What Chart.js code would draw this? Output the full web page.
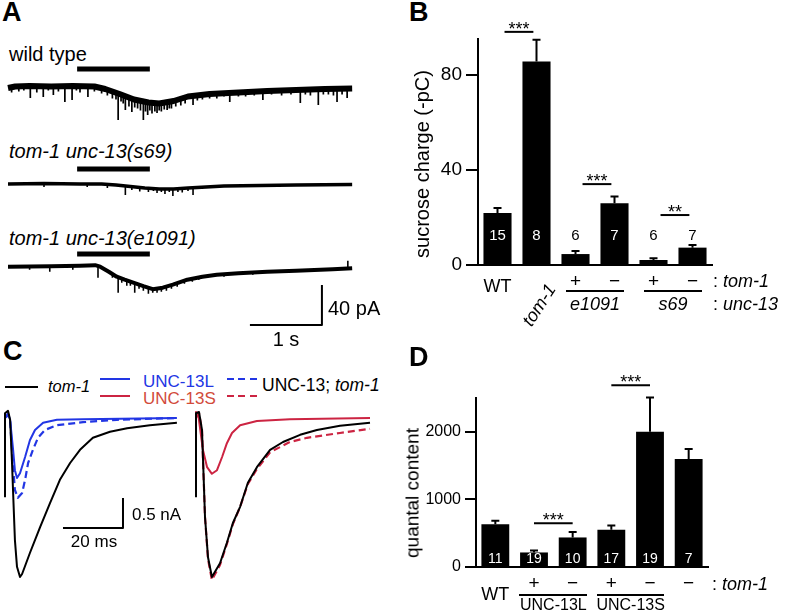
<!DOCTYPE html>
<html>
<head>
<meta charset="utf-8">
<script src="https://cdn.jsdelivr.net/npm/chart.js@4.4.1/dist/chart.umd.min.js"></script>
<style>
  body { margin: 0; background: #fff; }
  #fig { position: relative; width: 785px; height: 613px; overflow: hidden;
         font-family: 'Liberation Sans', Arial, Helvetica, sans-serif; color: #000; }
  #fig canvas { position: absolute; }
  .t { position: absolute; white-space: nowrap; line-height: 1; }
  .ln { position: absolute; }
</style>
</head>
<body>
<div id="fig"></div>
<script>
// ---------- A: sucrose-evoked currents, [time s, current pA] ----------
const A_STIM = [0.96, 1.97];
const WT_ENV = [[0, -1.5], [0.1, 0], [0.3, 0.5], [0.6, 0], [0.9, 0.5], [1.2, 0], [1.35, -2.5], [1.55, -7.5],
  [1.75, -13], [1.95, -16], [2.1, -17], [2.3, -14.5], [2.5, -10], [2.8, -7.5], [3.2, -6], [3.6, -4.5],
  [4.0, -3.5], [4.4, -2.5], [4.78, -2]];
// [time, start, tip] of the minis riding on the trace
const WT_SPIKES = [[0.05, -1, -6], [0.15, 0, -5], [0.22, 0, -4], [0.31, 0, -11.5], [0.4, 0, -6], [0.49, 0, -10.5],
  [0.56, 0, -4], [0.63, 0, -8.5], [0.7, 0, -5], [0.79, 0, -15.5], [0.89, 0, -13.5], [0.95, 0, -4], [1.0, 0, -6],
  [1.11, 0, -10.5], [1.2, 0, -5], [1.3, -1, -7], [1.38, -3, -9], [1.45, -5, -12], [1.5, -6, -13],
  [1.53, -7, -33.5], [1.57, -8, -15], [1.6, -8.5, -17], [1.63, -9.5, -23.5], [1.68, -11, -20], [1.72, -12, -25.5],
  [1.76, -13, -21], [1.8, -14, -22], [1.84, -14.5, -24], [1.88, -15, -33.5], [1.91, -15.5, -25], [1.94, -16, -28.5],
  [1.97, -16, -24], [2.0, -16.5, -27], [2.04, -17, -25], [2.07, -17, -26.5], [2.1, -17, -24], [2.13, -17, -25],
  [2.17, -16.5, -23], [2.21, -16, -23.5], [2.24, -15.5, -22], [2.27, -15, -22], [2.33, -14, -20], [2.4, -12, -19],
  [2.46, -11, -17], [2.57, -9.5, -18.5], [2.63, -9, -14], [2.7, -8, -13], [2.8, -7.5, -12], [2.9, -7, -12],
  [3.0, -6.5, -10], [3.08, -6.5, -15.5], [3.2, -6, -10], [3.3, -6, -10], [3.42, -5, -9], [3.54, -4.5, -13.5],
  [3.66, -4.5, -8], [3.8, -4, -9], [3.93, -4, -8], [4.06, -3.5, -16.5], [4.13, -3.5, -8], [4.2, -3, -9],
  [4.31, -3, -18.5], [4.38, -3, -8], [4.45, -2.5, -8], [4.52, -2.5, -9], [4.57, -2.5, -15.5], [4.64, -2, -8],
  [4.71, -2, -11.5]];
const S69_ENV = [[0, 0], [0.5, 0.5], [1.0, 0], [1.3, 0], [1.5, -1], [1.7, -2.5], [1.9, -4], [2.1, -5], [2.3, -5],
  [2.5, -4], [2.75, -3], [3.0, -2], [3.5, -1.5], [4.0, -1], [4.78, -0.5]];
const S69_SPIKES = [[0.5, 0, -3], [1.1, 0, -3], [1.38, -0.5, -4], [1.63, -2.5, -11], [1.72, -3, -6], [1.83, -3.5, -7.5],
  [1.95, -4, -8], [2.02, -4.5, -7], [2.07, -5, -9], [2.13, -5, -8], [2.18, -5, -10], [2.24, -5, -8], [2.29, -5, -12],
  [2.36, -5, -8], [2.42, -4.5, -8.5], [2.5, -4, -7], [2.57, -4, -11], [2.7, -3, -5]];
const E1091_ENV = [[0, 0], [0.6, 0.5], [1.0, 1], [1.21, 1.5], [1.28, 0], [1.4, -5], [1.51, -10], [1.62, -13],
  [1.74, -16], [1.88, -19.5], [2.01, -22.5], [2.15, -21], [2.29, -18], [2.49, -13], [2.7, -10], [2.9, -8],
  [3.2, -6.5], [3.6, -5], [4.0, -4], [4.51, -2.5], [4.78, -1.5]];
const E1091_SPIKES = [[0.3, 0, -3], [0.58, 0.5, -5], [0.9, 0.5, -3], [1.25, 0.5, -11], [1.45, -7, -11], [1.53, -10, -26],
  [1.58, -11, -16], [1.65, -13, -19], [1.7, -14.5, -19], [1.76, -16, -26], [1.82, -17.5, -22], [1.88, -19, -24],
  [1.95, -21, -27], [2.01, -22, -26], [2.07, -22, -26], [2.13, -21, -25], [2.2, -20, -24], [2.27, -18, -22],
  [2.35, -16, -20], [2.45, -14, -17], [2.56, -12, -15], [2.65, -11, -13], [3.0, -7.5, -10], [3.4, -6, -8],
  [3.9, -4, -6], [4.72, -1.5, 6]];
const A_SCALE = { s: 1, pA: 40 };

// ---------- B: sucrose charge (-pC) ----------
const B_CATS = ['WT', 'tom-1', 'e1091 +', 'e1091 −', 's69 +', 's69 −'];
const B_MEAN = [21.9, 85.5, 4.6, 26, 2.1, 7.3];
const B_SEM = [2.1, 9.2, 1.3, 2.8, 0.7, 1.1];
const B_N = [15, 8, 6, 7, 6, 7];
const B_TOM1 = ['', '', '+', '−', '+', '−'];
const B_TICKS = [0, 40, 80];
const B_SIG = [[0, 1, '***', 98], [2, 3, '***', 34], [4, 5, '**', 21]];

// ---------- C: evoked EPSCs, [time ms, current nA] ----------
const C_TOM1_L = [[0, -1.32], [0, 0.08], [1, 0.12], [1.7, -0.03], [2.3, -0.7], [2.8, -1.37], [3.3, -2.03], [4, -2.48],
  [5, -2.65], [5.7, -2.6], [8.3, -2.25], [11.7, -1.82], [15, -1.42], [18.3, -1.03], [21.7, -0.75], [25, -0.53],
  [29.3, -0.33], [35, -0.23], [40.7, -0.17], [48.3, -0.12], [57.3, -0.08]];
const C_13L = [[0, 0], [1, 0.08], [1.7, -0.03], [2.7, -0.53], [3.3, -0.87], [4, -1.0], [5, -0.92], [6.7, -0.65],
  [8.3, -0.37], [10, -0.2], [12.7, -0.08], [17.3, -0.03], [26, -0.02], [57.3, 0]];
const C_13L_TOM1 = [[0, 0], [1, 0.05], [1.7, -0.03], [2.3, -0.53], [3.3, -1.2], [4.3, -1.33], [5.7, -1.25], [6.7, -1.03],
  [7.7, -0.75], [9.3, -0.53], [11, -0.33], [13.3, -0.2], [17.3, -0.12], [26, -0.07], [37.3, -0.03], [57.3, 0]];
const C_TOM1_R = [[0, -1.32], [0, 0.08], [1, 0.1], [2, -0.2], [3, -1.65], [4, -2.32], [5.3, -2.65], [8, -2.42],
  [10.3, -2.08], [12.3, -1.75], [14.7, -1.48], [17.3, -1.08], [20.3, -0.82], [24.7, -0.53], [29, -0.4],
  [34.7, -0.28], [40.3, -0.2], [48, -0.13], [58, -0.08]];
const C_13S = [[0, -0.92], [0, 0.1], [0.7, 0.08], [1.3, -0.15], [2.3, -0.53], [3.7, -0.82], [5.3, -0.93], [7, -0.87],
  [8.7, -0.65], [10.3, -0.42], [12, -0.25], [14.7, -0.12], [20.3, -0.05], [31.3, -0.02], [58, 0]];
const C_13S_TOM1 = [[0, 0], [1, 0.08], [2, -0.2], [3, -1.65], [4, -2.35], [5.3, -2.7], [8, -2.45], [10.3, -2.1],
  [12.3, -1.77], [14.7, -1.48], [17.3, -1.1], [20.3, -0.85], [24.7, -0.57], [31.3, -0.4], [37, -0.33],
  [48, -0.25], [58, -0.18]];
const C_SCALE = { ms: 20, nA: 0.5 };

// ---------- D: quantal content ----------
const D_CATS = ['WT', 'UNC-13L +', 'UNC-13L −', 'UNC-13S +', 'UNC-13S −', '−'];
const D_MEAN = [634, 215, 437, 550, 2000, 1597];
const D_SEM = [49, 30, 79, 64, 507, 148];
const D_N = [11, 19, 10, 17, 19, 7];
const D_TOM1 = ['', '+', '−', '+', '−', '−'];
const D_TICKS = [0, 1000, 2000];
const D_SIG = [[1, 2, '***', 649], [3, 4, '***', 2689]];

const BLUE = '#2236e4';
const RED = '#cc2442';
const RED_TEXT = '#d24b3b';
Chart.defaults.font.family = "'Liberation Sans', Arial, Helvetica, sans-serif";

const fig = document.getElementById('fig');

function addCanvas(x, y, w, h) {
  const c = document.createElement('canvas');
  c.width = w; c.height = h;
  c.style.left = x + 'px'; c.style.top = y + 'px';
  c.style.width = w + 'px'; c.style.height = h + 'px';
  fig.appendChild(c);
  return c;
}

// text with its baseline at `base`
function label(html, x, base, size, o = {}) {
  const d = document.createElement('div');
  d.className = 't';
  d.innerHTML = html;
  d.style.fontSize = size + 'px';
  d.style.left = x + 'px';
  d.style.top = (base - 0.8465 * size) + 'px';
  if (o.align === 'center') d.style.transform = 'translateX(-50%)';
  if (o.align === 'right') d.style.transform = 'translateX(-100%)';
  if (o.color) d.style.color = o.color;
  if (o.bold) d.style.fontWeight = 'bold';
  if (o.italic) d.style.fontStyle = 'italic';
  fig.appendChild(d);
  return d;
}

function rotLabel(html, cx, cy, size, deg, o = {}) {
  const d = document.createElement('div');
  d.className = 't';
  d.innerHTML = html;
  d.style.fontSize = size + 'px';
  d.style.left = cx + 'px';
  d.style.top = cy + 'px';
  d.style.transform = `translate(-50%, -50%) rotate(${deg}deg)`;
  if (o.italic) d.style.fontStyle = 'italic';
  fig.appendChild(d);
}

function hline(x1, x2, y, w, color, dashed) {
  const d = document.createElement('div');
  d.className = 'ln';
  d.style.left = x1 + 'px';
  d.style.top = (y - w / 2) + 'px';
  d.style.width = (x2 - x1) + 'px';
  d.style.height = w + 'px';
  d.style.background = dashed
    ? `repeating-linear-gradient(to right, ${color} 0 7px, transparent 7px 11.5px)`
    : color;
  fig.appendChild(d);
}

function line(pairs, color, width, dash) {
  return {
    data: pairs.map(p => ({ x: p[0], y: p[1] })),
    showLine: true, borderColor: color, borderWidth: width, borderDash: dash || [],
    pointRadius: 0, clip: false, borderJoinStyle: 'round', spanGaps: false
  };
}

function spikes(list, color, width) {
  const pts = [];
  list.forEach(s => {
    pts.push({ x: s[0], y: s[1] }, { x: s[0], y: s[2] }, { x: s[0], y: null });
  });
  return { data: pts, showLine: true, borderColor: color, borderWidth: width, pointRadius: 0,
           clip: false, spanGaps: false };
}

// trace panel: (ox, oy) is the page pixel of time 0 / current 0
function tracePanel(ox, oy, width, top, bottom, pxX, pxY, datasets) {
  const pad = 6;
  const cv = addCanvas(ox - pad, top, width + 2 * pad, bottom - top);
  return new Chart(cv, {
    type: 'scatter',
    data: { datasets },
    options: {
      responsive: false, animation: false, events: [],
      layout: { padding: 0 },
      plugins: { legend: { display: false }, tooltip: { enabled: false } },
      scales: {
        x: { type: 'linear', display: false, min: -pad / pxX, max: (width + pad) / pxX },
        y: { type: 'linear', display: false, min: -(bottom - oy) / pxY, max: (oy - top) / pxY }
      },
      elements: { line: { tension: 0 } }
    }
  });
}

// ---------- panel A ----------
const PX_PER_S = 72, PX_PER_PA = 1;
label('A', 2, 21.5, 27, { bold: true });
label('wild type', 9, 61, 20);
tracePanel(8, 86.5, 346, 58, 135, PX_PER_S, PX_PER_PA, [
  line([[A_STIM[0], 17.5], [A_STIM[1], 17.5]], '#000', 5),
  line(WT_ENV, '#000', 6),
  spikes(WT_SPIKES, '#000', 1.7)
]);
label('tom-1 unc-13(s69)', 9, 158, 20, { italic: true });
tracePanel(8, 184, 346, 160, 210, PX_PER_S, PX_PER_PA, [
  line([[A_STIM[0], 15], [A_STIM[1], 15]], '#000', 5),
  line(S69_ENV, '#000', 3.5),
  spikes(S69_SPIKES, '#000', 1.6)
]);
label('tom-1 unc-13(e1091)', 9, 245, 20, { italic: true });
const sbT = 3.36, sbI = -58.3;
tracePanel(8, 266.7, 346, 245, 335, PX_PER_S, PX_PER_PA, [
  line([[A_STIM[0], 12.7], [A_STIM[1], 12.7]], '#000', 5),
  line(E1091_ENV, '#000', 4),
  spikes(E1091_SPIKES, '#000', 1.6),
  line([[sbT, sbI], [sbT + A_SCALE.s, sbI], [sbT + A_SCALE.s, sbI + A_SCALE.pA]], '#000', 2)
]);
label('40 pA', 328, 315, 20);
label('1 s', 286, 346, 20, { align: 'center' });

// ---------- panel C ----------
const PX_PER_MS = 3, PX_PER_NA = 60;
label('C', 3, 361, 27, { bold: true });
hline(5, 38, 387, 2, '#000');
label('tom-1', 48, 392, 16.5, { italic: true });
hline(100, 130, 379, 2, BLUE);
hline(100, 130, 396, 2, RED);
label('UNC-13L', 143, 387, 17, { color: BLUE });
label('UNC-13S', 143, 404, 17, { color: RED_TEXT });
hline(227, 258, 379, 2.5, BLUE, true);
hline(227, 258, 396, 2.5, RED, true);
label('UNC-13; <i>tom-1</i>', 262, 392, 17.5);
const sbMs = 19.33, sbNa = -1.833;
tracePanel(5, 418, 175, 400, 592, PX_PER_MS, PX_PER_NA, [
  line(C_TOM1_L, '#000', 2),
  line(C_13L, BLUE, 2),
  line(C_13L_TOM1, BLUE, 2.2, [7, 4]),
  line([[sbMs, sbNa], [sbMs + C_SCALE.ms, sbNa], [sbMs + C_SCALE.ms, sbNa + C_SCALE.nA]], '#000', 2)
]);
tracePanel(196, 418, 176, 400, 592, PX_PER_MS, PX_PER_NA, [
  line(C_TOM1_R, '#000', 2),
  line(C_13S, RED, 2),
  line(C_13S_TOM1, RED, 2.2, [7, 4])
]);
label('0.5 nA', 132, 520, 17);
label('20 ms', 94, 547, 17, { align: 'center' });

// ---------- bar panels ----------
function barPanel(p) {
  const cv = addCanvas(p.left, p.top, p.w, p.h);
  const chart = new Chart(cv, {
    type: 'bar',
    data: {
      labels: p.cats,
      datasets: [{ data: p.mean, backgroundColor: '#000', borderWidth: 0,
                   barPercentage: 0.72, categoryPercentage: 1 }]
    },
    options: {
      responsive: false, animation: false, events: [],
      layout: { padding: p.pad },
      plugins: { legend: { display: false }, tooltip: { enabled: false } },
      scales: {
        x: { offset: true, grid: { display: false }, ticks: { display: false },
             border: { display: true, color: '#000', width: 2 },
             afterFit: s => { s.height = 0; } },
        y: { min: 0, max: p.max,
             afterBuildTicks: s => { s.ticks = p.ticks.map(v => ({ value: v })); },
             afterFit: s => { s.width = p.axisW; },
             grid: { drawOnChartArea: false, tickLength: p.tickLen, color: '#000', lineWidth: 2 },
             border: { display: true, color: '#000', width: 2 },
             ticks: { color: '#000', padding: 4, font: { size: p.tickSize }, callback: v => String(v) } }
      }
    },
    plugins: [{
      id: 'errorsAndSig',
      afterDatasetsDraw(c) {
        const { ctx, scales: { x, y } } = c;
        const bars = c.getDatasetMeta(0).data;
        ctx.save();
        ctx.strokeStyle = '#000';
        ctx.lineWidth = 2;
        bars.forEach((b, i) => {
          const yt = y.getPixelForValue(p.mean[i] + p.sem[i]);
          ctx.beginPath();
          ctx.moveTo(b.x, y.getPixelForValue(p.mean[i]));
          ctx.lineTo(b.x, yt);
          ctx.moveTo(b.x - 4, yt);
          ctx.lineTo(b.x + 4, yt);
          ctx.stroke();
        });
        p.sig.forEach(s => {
          const yy = y.getPixelForValue(s[3]);
          ctx.beginPath();
          ctx.moveTo(x.getPixelForValue(s[0] + p.sigOff[0]), yy);
          ctx.lineTo(x.getPixelForValue(s[1] + p.sigOff[1]), yy);
          ctx.stroke();
        });
        ctx.restore();
      }
    }]
  });
  const xs = chart.scales.x, ys = chart.scales.y;
  const X = i => p.left + xs.getPixelForValue(i);
  const Y = v => p.top + ys.getPixelForValue(v);
  const bottom = p.top + chart.chartArea.bottom;
  // n per bar
  p.n.forEach((n, i) => {
    const base = bottom - p.nRaise;
    const barTop = Y(p.mean[i]);
    const white = barTop <= base - p.nSize * 0.72 + 2;
    label(String(n), X(i), base, p.nSize, { align: 'center', color: white ? '#fff' : '#000' });
  });
  // significance stars
  p.sig.forEach(s => {
    const cx = (X(s[0] + p.sigOff[0]) + X(s[1] + p.sigOff[1])) / 2;
    label(s[2], cx, Y(s[3]) + 3.5, 18, { align: 'center' });
  });
  return { X, Y, bottom };
}

// ---------- panel B ----------
label('B', 409, 21.5, 27, { bold: true });
const pb = barPanel({
  left: 380, top: 0, w: 405, h: 330, pad: { left: 0, right: 73, top: 39, bottom: 65 },
  axisW: 98, tickLen: 12, tickSize: 19, max: 95, ticks: B_TICKS,
  cats: B_CATS, mean: B_MEAN, sem: B_SEM, n: B_N, nSize: 15, nRaise: 25,
  sig: B_SIG, sigOff: [0.18, -0.08]
});
rotLabel('sucrose charge (-pC)', 422, 164, 20, -90);
label('WT', pb.X(0), 292, 18, { align: 'center' });
rotLabel('tom-1', pb.X(1) + 2, 305, 18, -57, { italic: true });
B_TOM1.forEach((s, i) => { if (s) label(s, pb.X(i), 287, 19, { align: 'center' }); });
label(': <i>tom-1</i>', 713, 287, 18);
hline(pb.X(1.75), pb.X(3.25), 290.5, 2, '#000');
hline(pb.X(3.75), pb.X(5.25), 290.5, 2, '#000');
label('e1091', pb.X(2.5), 310, 18, { align: 'center', italic: true });
label('s69', pb.X(4.5), 310, 18, { align: 'center', italic: true });
label(': <i>unc-13</i>', 713, 310, 18);

// ---------- panel D ----------
label('D', 409, 367, 27, { bold: true });
const pd = barPanel({
  left: 380, top: 330, w: 405, h: 283, pad: { left: 0, right: 77, top: 68, bottom: 46 },
  axisW: 96, tickLen: 11, tickSize: 16, max: 2500, ticks: D_TICKS,
  cats: D_CATS, mean: D_MEAN, sem: D_SEM, n: D_N, nSize: 14, nRaise: 4.5,
  sig: D_SIG, sigOff: [0, 0]
});
rotLabel('quantal content', 412, 493, 19, -90);
label('WT', pd.X(0), 600.5, 18, { align: 'center' });
D_TOM1.forEach((s, i) => { if (s) label(s, pd.X(i), 589, 19, { align: 'center' }); });
label(': <i>tom-1</i>', 712, 590, 18);
hline(pd.X(0.62), pd.X(2.37), 595, 2, '#000');
hline(pd.X(2.62), pd.X(4.37), 595, 2, '#000');
label('UNC-13L', pd.X(1.5), 610.5, 16, { align: 'center' });
label('UNC-13S', pd.X(3.5), 610.5, 16, { align: 'center' });
</script>
</body>
</html>
